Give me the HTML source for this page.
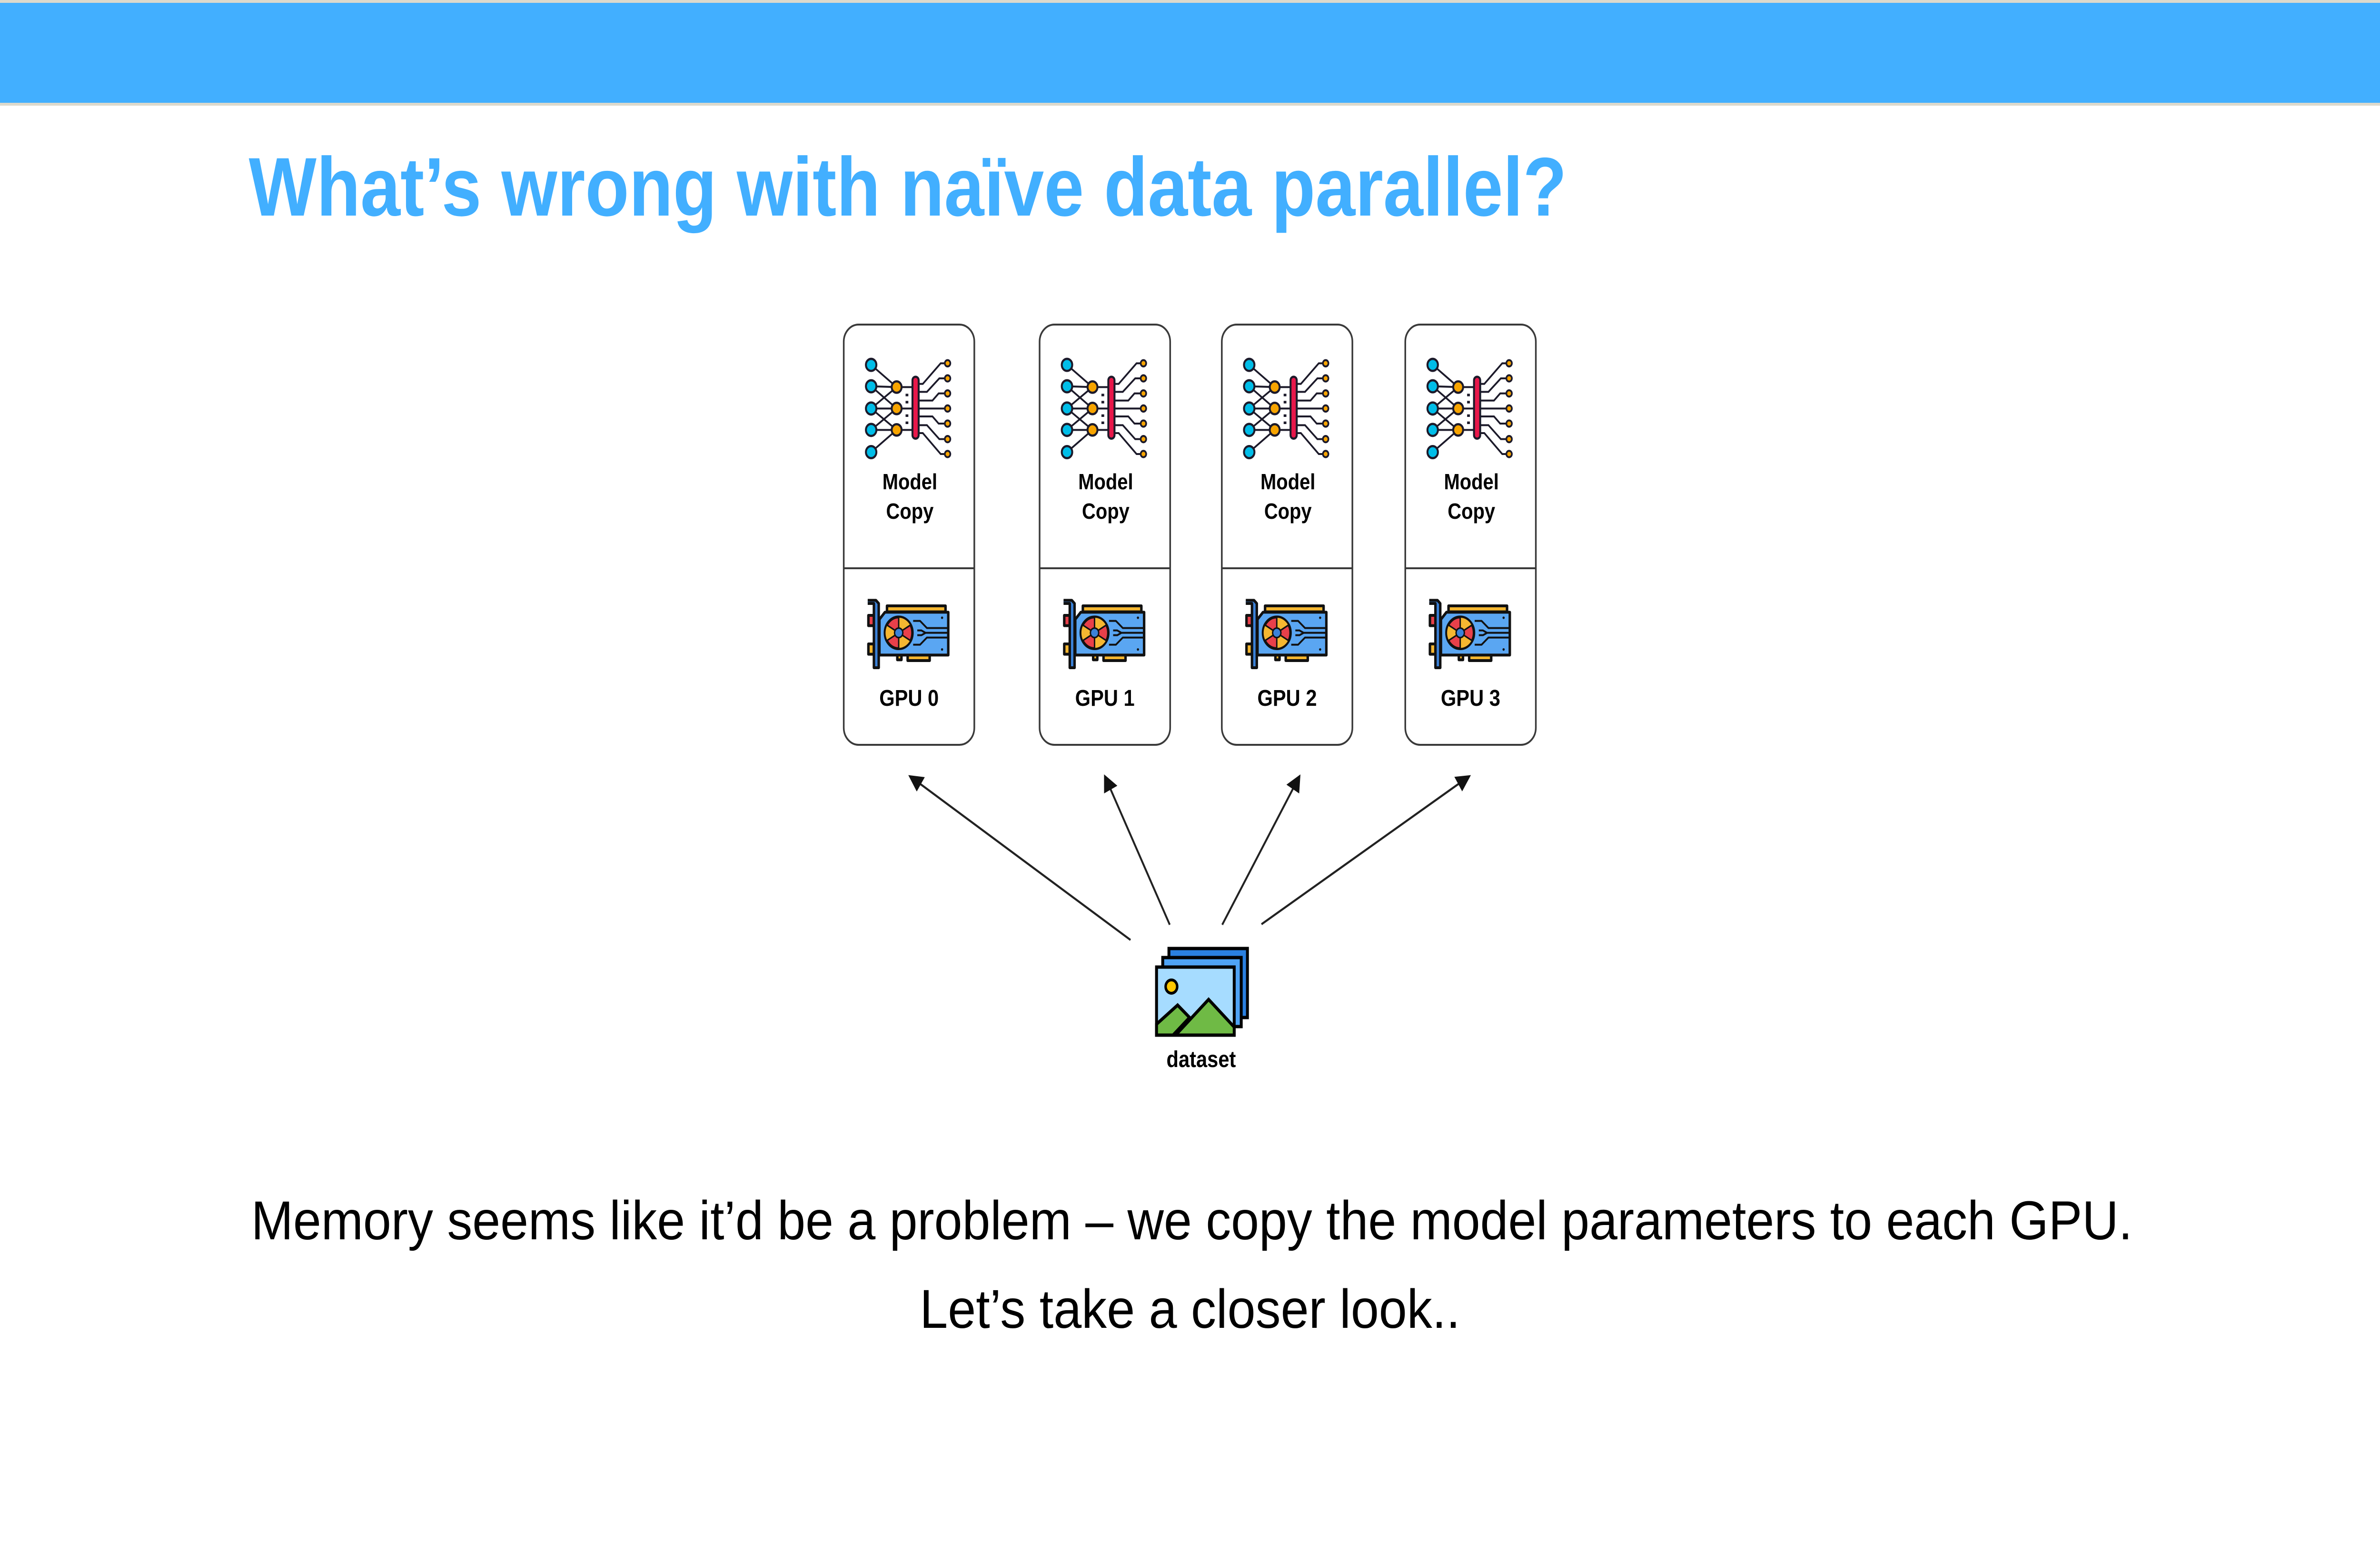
<!DOCTYPE html>
<html><head><meta charset="utf-8"><style>html,body{margin:0;padding:0;background:#fff;width:100%;height:100%;overflow:hidden}svg{display:block;position:absolute;left:0;top:0;width:100vw;height:100vh}</style></head>
<body>
<svg xmlns="http://www.w3.org/2000/svg" viewBox="0 0 5760 3240" preserveAspectRatio="none">
<defs>
<g id="net" stroke="#1c1a2a" stroke-width="14" fill="none">
  <g stroke-width="12">
    <line x1="85" y1="110" x2="270" y2="250"/>
    <line x1="85" y1="245" x2="270" y2="250"/>
    <line x1="85" y1="245" x2="270" y2="385"/>
    <line x1="85" y1="385" x2="270" y2="250"/>
    <line x1="85" y1="385" x2="270" y2="385"/>
    <line x1="85" y1="385" x2="270" y2="520"/>
    <line x1="85" y1="520" x2="270" y2="385"/>
    <line x1="85" y1="520" x2="270" y2="520"/>
    <line x1="85" y1="660" x2="270" y2="520"/>
    <line x1="270" y1="250" x2="400" y2="250"/>
    <line x1="270" y1="385" x2="400" y2="385"/>
    <line x1="270" y1="520" x2="400" y2="520"/>
    <polyline points="430,230 460,230 590,100 640,100"/>
    <polyline points="430,280 490,280 580,195 640,195"/>
    <polyline points="430,335 530,335 575,290 640,290"/>
    <polyline points="430,385 640,385"/>
    <polyline points="430,435 530,435 575,480 640,480"/>
    <polyline points="430,490 490,490 580,578 640,578"/>
    <polyline points="430,540 460,540 590,672 640,672"/>
  </g>
  <g fill="#00bde8"><circle cx="85" cy="110" r="38"/><circle cx="85" cy="245" r="38"/><circle cx="85" cy="385" r="38"/><circle cx="85" cy="520" r="38"/><circle cx="85" cy="660" r="38"/></g>
  <g fill="#f7a400"><circle cx="270" cy="250" r="36"/><circle cx="270" cy="385" r="36"/><circle cx="270" cy="520" r="36"/></g>
  <rect x="385" y="185" width="45" height="390" rx="22" fill="#e8174a"/>
  <g fill="#f7a400" stroke-width="12"><circle cx="640" cy="100" r="20"/><circle cx="640" cy="195" r="20"/><circle cx="640" cy="290" r="20"/><circle cx="640" cy="385" r="20"/><circle cx="640" cy="480" r="20"/><circle cx="640" cy="578" r="20"/><circle cx="640" cy="672" r="20"/></g>
  <g fill="#1c1a2a" stroke="none"><rect x="335" y="292" width="20" height="16"/><rect x="335" y="337" width="20" height="16"/><rect x="335" y="422" width="20" height="16"/><rect x="335" y="467" width="20" height="16"/></g>
</g>
<g id="gpu" stroke="#111" stroke-width="18" stroke-linejoin="round">
  <rect x="5" y="105" width="40" height="65" fill="#e8404a"/>
  <rect x="5" y="285" width="40" height="65" fill="#f5b731"/>
  <rect x="140" y="45" width="425" height="38" fill="#f5b731"/>
  <rect x="290" y="350" width="160" height="40" fill="#f5b731"/>
  <rect x="215" y="350" width="30" height="35" fill="#f5b731"/>
  <path d="M85,130 L125,85 L585,85 L585,355 L85,355 Z" fill="#5aa6f2"/>
  <path d="M0,10 L60,10 L80,30 L80,435 L45,435 L45,30 L0,30" fill="#3b82d9"/>
  <circle cx="225" cy="215" r="100" fill="#e8404a"/>
  <path d="M225,215 L225,115 A100,100 0 0 1 312,165 Z M225,215 L312,265 A100,100 0 0 1 225,315 Z M225,215 L138,265 A100,100 0 0 1 138,165 Z" fill="#f5b731" stroke-width="10"/>
  <circle cx="225" cy="215" r="30" fill="#3b82d9" stroke-width="10"/>
  <g fill="none" stroke-width="12"><polyline points="330,140 380,140 430,185 585,185"/><polyline points="330,290 380,290 430,245 585,245"/><polyline points="360,200 390,200 420,215 585,215"/><polyline points="360,230 390,230 420,215"/></g>
  <circle cx="540" cy="120" r="8" fill="#111" stroke="none"/><circle cx="540" cy="320" r="8" fill="#111" stroke="none"/>
</g>
<marker id="ah" markerWidth="8" markerHeight="8" refX="7" refY="4" orient="auto" markerUnits="strokeWidth"><path d="M0,0 L8,4 L0,8 Z" fill="#111"/></marker>
</defs>

<rect x="0" y="0" width="5760" height="6" fill="#dcd9cc"/>
<rect x="0" y="6" width="5760" height="210" fill="#42afff"/>
<rect x="0" y="216" width="5760" height="6" fill="#dcd9cc"/>

<text x="602" y="453" font-family="Liberation Sans, sans-serif" font-weight="bold" font-size="175" fill="#42afff" textLength="3190" lengthAdjust="spacingAndGlyphs">What’s wrong with naïve data parallel?</text>

<g font-family="Liberation Sans, sans-serif" font-weight="bold" fill="#000" text-anchor="middle">
<g>
  <rect x="2042" y="682" width="316" height="883" rx="36" fill="#fff" stroke="#3a3a3a" stroke-width="4"/>
  <line x1="2042" y1="1194" x2="2358" y2="1194" stroke="#3a3a3a" stroke-width="4"/>
  <use href="#net" transform="translate(2080,730) scale(0.3333)"/>
  <use href="#gpu" transform="translate(2100,1258) scale(0.3333)"/>
  <text x="2202" y="1028" font-size="46">Model</text>
  <text x="2202" y="1090" font-size="46">Copy</text>
  <text x="2200" y="1483" font-size="48">GPU 0</text>
</g>
<g transform="translate(474,0)">
  <rect x="2042" y="682" width="316" height="883" rx="36" fill="#fff" stroke="#3a3a3a" stroke-width="4"/>
  <line x1="2042" y1="1194" x2="2358" y2="1194" stroke="#3a3a3a" stroke-width="4"/>
  <use href="#net" transform="translate(2080,730) scale(0.3333)"/>
  <use href="#gpu" transform="translate(2100,1258) scale(0.3333)"/>
  <text x="2202" y="1028" font-size="46">Model</text>
  <text x="2202" y="1090" font-size="46">Copy</text>
  <text x="2200" y="1483" font-size="48">GPU 1</text>
</g>
<g transform="translate(915,0)">
  <rect x="2042" y="682" width="316" height="883" rx="36" fill="#fff" stroke="#3a3a3a" stroke-width="4"/>
  <line x1="2042" y1="1194" x2="2358" y2="1194" stroke="#3a3a3a" stroke-width="4"/>
  <use href="#net" transform="translate(2080,730) scale(0.3333)"/>
  <use href="#gpu" transform="translate(2100,1258) scale(0.3333)"/>
  <text x="2202" y="1028" font-size="46">Model</text>
  <text x="2202" y="1090" font-size="46">Copy</text>
  <text x="2200" y="1483" font-size="48">GPU 2</text>
</g>
<g transform="translate(1359,0)">
  <rect x="2042" y="682" width="316" height="883" rx="36" fill="#fff" stroke="#3a3a3a" stroke-width="4"/>
  <line x1="2042" y1="1194" x2="2358" y2="1194" stroke="#3a3a3a" stroke-width="4"/>
  <use href="#net" transform="translate(2080,730) scale(0.3333)"/>
  <use href="#gpu" transform="translate(2100,1258) scale(0.3333)"/>
  <text x="2202" y="1028" font-size="46">Model</text>
  <text x="2202" y="1090" font-size="46">Copy</text>
  <text x="2200" y="1483" font-size="48">GPU 3</text>
</g>
</g>

<g stroke="#222" stroke-width="4.5" marker-end="url(#ah)">
  <line x1="2736" y1="1975" x2="2202" y2="1631"/>
  <line x1="2831" y1="1943" x2="2674" y2="1631"/>
  <line x1="2958" y1="1943" x2="3145" y2="1631"/>
  <line x1="3053" y1="1942" x2="3556" y2="1631"/>
</g>

<g transform="translate(2797,1990)" stroke="#000" stroke-width="7" stroke-linejoin="miter">
  <rect x="32" y="3" width="190" height="145" fill="#2a80e0"/>
  <rect x="17" y="22" width="190" height="145" fill="#4ea3f5"/>
  <rect x="2" y="42" width="188" height="143" fill="#a6dcff"/>
  <path d="M2,162 L53,122 L82,148 L42,185 L2,185 Z" fill="#6fba45"/>
  <path d="M48,185 L128,110 L190,168 L190,185 Z" fill="#6fba45"/>
  <circle cx="38" cy="83" r="14" fill="#ffc800" stroke-width="6"/>
</g>
<text x="2907" y="2242" font-family="Liberation Sans, sans-serif" font-weight="bold" font-size="48" text-anchor="middle" fill="#000">dataset</text>

<g font-family="Liberation Sans, sans-serif" font-size="115" fill="#000">
  <text x="608" y="2604" textLength="4553" lengthAdjust="spacingAndGlyphs">Memory seems like it’d be a problem – we copy the model parameters to each GPU.</text>
  <text x="2226" y="2790" textLength="1308" lengthAdjust="spacingAndGlyphs">Let’s take a closer look..</text>
</g>
</svg>
</body></html>
